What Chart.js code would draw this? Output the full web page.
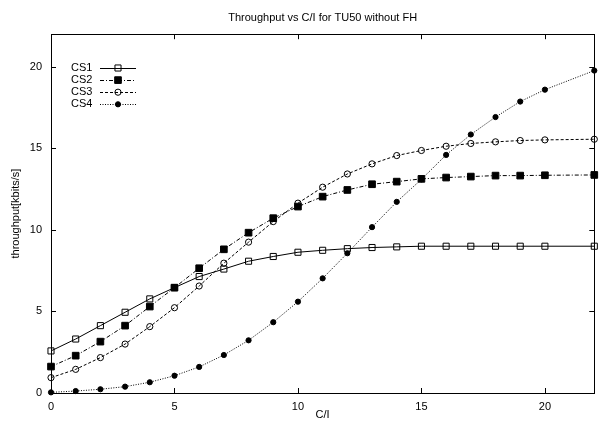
<!DOCTYPE html>
<html>
<head>
<meta charset="utf-8">
<script src="https://cdn.jsdelivr.net/npm/chart.js@4/dist/chart.umd.min.js"></script>
<style>
    body { margin: 0; background: #fff; }
    #wrap { width: 600px; height: 428px; }
</style>
</head>
<body>
<div id="wrap"><canvas id="throughputChart" width="600" height="428"></canvas></div>
<script>
// C/I values (dB) and throughput per coding scheme
const ciValues = [0, 1, 2, 3, 4, 5, 6, 7, 8, 9, 10, 11, 12, 13, 14, 15, 16, 17, 18, 19, 20, 22];

const cs1 = [2.58, 3.31, 4.13, 4.95, 5.77, 6.46, 7.14, 7.6, 8.08, 8.37, 8.63, 8.75, 8.85, 8.92, 8.96, 9.0, 9.0, 9.0, 9.0, 9.0, 9.0, 9.0];
const cs2 = [1.62, 2.29, 3.15, 4.13, 5.3, 6.46, 7.65, 8.81, 9.83, 10.72, 11.43, 12.04, 12.45, 12.8, 12.96, 13.13, 13.21, 13.27, 13.33, 13.33, 13.35, 13.37];
const cs3 = [0.94, 1.45, 2.17, 3.0, 4.07, 5.23, 6.56, 7.96, 9.25, 10.51, 11.64, 12.62, 13.43, 14.05, 14.56, 14.87, 15.13, 15.3, 15.4, 15.48, 15.52, 15.56];
const cs4 = [0.04, 0.12, 0.23, 0.39, 0.66, 1.06, 1.6, 2.33, 3.23, 4.34, 5.6, 7.03, 8.57, 10.17, 11.72, 13.1, 14.6, 15.85, 16.92, 17.87, 18.6, 19.77];

const seriesNames = ["CS1", "CS2", "CS3", "CS4"];
const xTicks = [0, 5, 10, 15, 20];
const yTicks = [0, 5, 10, 15, 20];

const FONT = "'Liberation Sans', Arial, Helvetica, sans-serif";

function toPoints(values) {
    return values.map((v, i) => ({ x: ciValues[i], y: v }));
}

const styles = [
    { dash: [], pointStyle: "rect", radius: 4.3, fill: "rgba(0,0,0,0)" },
    { dash: [4, 2, 1, 2], pointStyle: "rect", radius: 4.7, fill: "#000" },
    { dash: [3, 2], pointStyle: "circle", radius: 3.1, fill: "rgba(0,0,0,0)" },
    { dash: [1, 1.5], pointStyle: "circle", radius: 2.6, fill: "#000" },
];

const allSeries = [cs1, cs2, cs3, cs4];

const datasets = allSeries.map((values, i) => ({
    label: seriesNames[i],
    data: toPoints(values),
    borderColor: "#000",
    borderWidth: 1,
    borderDash: styles[i].dash,
    pointStyle: styles[i].pointStyle,
    pointRadius: styles[i].radius,
    pointBorderWidth: 1,
    pointBorderColor: "#000",
    pointBackgroundColor: styles[i].fill,
    tension: 0,
    fill: false,
    clip: false,
}));

// center the title over the plot area instead of the whole canvas
const titleOverPlot = {
    id: "titleOverPlot",
    afterLayout(chart) {
        if (chart.titleBlock) {
            chart.titleBlock.left = chart.chartArea.left;
            chart.titleBlock.right = chart.chartArea.right;
        }
    },
};

// box around the plot with inward ticks on all four sides
const framePlugin = {
    id: "frame",
    afterDraw(chart) {
        const { ctx, chartArea: a, scales } = chart;
        const len = 5;
        ctx.save();
        ctx.strokeStyle = "#000";
        ctx.lineWidth = 1;
        ctx.setLineDash([]);
        ctx.strokeRect(Math.round(a.left) + 0.5, Math.round(a.top) + 0.5,
            Math.round(a.right - a.left), Math.round(a.bottom - a.top));
        ctx.beginPath();
        scales.x.ticks.forEach((t) => {
            const px = Math.round(scales.x.getPixelForValue(t.value)) + 0.5;
            ctx.moveTo(px, a.bottom);
            ctx.lineTo(px, a.bottom - len);
            ctx.moveTo(px, a.top);
            ctx.lineTo(px, a.top + len);
        });
        scales.y.ticks.forEach((t) => {
            const py = Math.round(scales.y.getPixelForValue(t.value)) + 0.5;
            ctx.moveTo(a.left, py);
            ctx.lineTo(a.left + len, py);
            ctx.moveTo(a.right, py);
            ctx.lineTo(a.right - len, py);
        });
        ctx.stroke();
        ctx.restore();
    },
};

// key in the upper left: name, then a line sample with its marker
const keyPlugin = {
    id: "key",
    afterDraw(chart) {
        const { ctx } = chart;
        ctx.save();
        ctx.font = "11px " + FONT;
        ctx.fillStyle = "#000";
        ctx.textBaseline = "middle";
        chart.data.datasets.forEach((ds, i) => {
            const y = 68 + i * 12.1;
            ctx.fillText(ds.label, 71, y);
            ctx.strokeStyle = "#000";
            ctx.lineWidth = 1;
            ctx.setLineDash(ds.borderDash);
            ctx.beginPath();
            ctx.moveTo(100, Math.round(y) + 0.5);
            ctx.lineTo(136, Math.round(y) + 0.5);
            ctx.stroke();
            ctx.setLineDash([]);
            const r = ds.pointRadius;
            ctx.beginPath();
            if (ds.pointStyle === "rect") {
                const s = r * Math.SQRT1_2;
                ctx.rect(118 - s, y - s, 2 * s, 2 * s);
            } else {
                ctx.arc(118, y, r, 0, Math.PI * 2);
            }
            ctx.fillStyle = ds.pointBackgroundColor;
            ctx.fill();
            ctx.stroke();
            ctx.fillStyle = "#000";
        });
        ctx.restore();
    },
};

new Chart(document.getElementById("throughputChart"), {
    type: "line",
    data: { datasets: datasets },
    options: {
        responsive: false,
        animation: false,
        layout: { padding: { left: 0, right: 2, top: 0, bottom: 0 } },
        plugins: {
            legend: { display: false },
            tooltip: { enabled: false },
            title: {
                display: true,
                text: "Throughput vs C/I for TU50 without FH",
                color: "#000",
                font: { family: FONT, size: 11, weight: "normal" },
                padding: { top: 11, bottom: 10 },
            },
        },
        scales: {
            x: {
                type: "linear",
                min: 0,
                max: 22,
                grid: { display: false, drawTicks: false },
                border: { display: false },
                afterBuildTicks: (scale) => {
                    scale.ticks = xTicks.map((v) => ({ value: v }));
                },
                afterFit: (scale) => {
                    scale.height = 35;
                },
                ticks: {
                    color: "#000",
                    padding: 7,
                    maxRotation: 0,
                    font: { family: FONT, size: 11 },
                },
                title: {
                    display: true,
                    text: "C/I",
                    color: "#000",
                    font: { family: FONT, size: 11 },
                    padding: { top: 0, bottom: 6 },
                },
            },
            y: {
                type: "linear",
                min: 0,
                max: 22,
                grid: { display: false, drawTicks: false },
                border: { display: false },
                afterBuildTicks: (scale) => {
                    scale.ticks = yTicks.map((v) => ({ value: v }));
                },
                afterFit: (scale) => {
                    scale.width = 51;
                },
                ticks: {
                    color: "#000",
                    padding: 9,
                    font: { family: FONT, size: 11 },
                },
                title: {
                    display: true,
                    text: "throughput[kbits/s]",
                    color: "#000",
                    font: { family: FONT, size: 11 },
                    padding: { top: 9, bottom: 0 },
                },
            },
        },
    },
    plugins: [titleOverPlot, framePlugin, keyPlugin],
});
</script>
</body>
</html>
